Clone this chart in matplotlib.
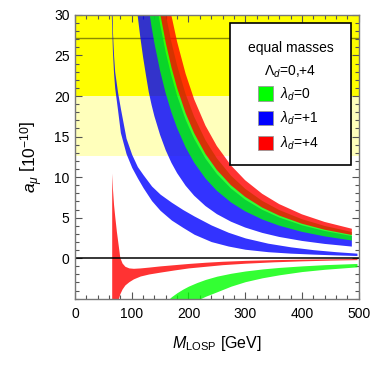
import matplotlib
matplotlib.use("Agg")
import matplotlib.pyplot as plt
from matplotlib.patches import Rectangle
from matplotlib.ticker import MultipleLocator

plt.rcParams['font.family'] = ['Liberation Sans', 'DejaVu Sans']
plt.rcParams['mathtext.fontset'] = 'custom'
plt.rcParams['mathtext.rm'] = 'Liberation Sans'
plt.rcParams['mathtext.it'] = 'Liberation Sans:italic'
plt.rcParams['mathtext.bf'] = 'Liberation Sans:bold'

# ---------------- data ----------------
# experimental bands
band_2sigma = (12.6, 20.0)
band_1sigma = (20.0, 30.0)
central_value = 27.1

# main (wide) bands, mass grid in GeV
m_main = [100, 105, 110, 115, 120, 125, 130, 135, 140, 150, 160, 170, 180, 195,
          210, 230, 250, 275, 300, 330, 360, 400, 440, 488]
blue_lo = [36.6, 33.2, 30.2, 27.3, 24.8, 22.6, 20.5, 18.9, 17.5, 15.2, 13.3, 11.76,
           10.49, 8.94, 7.71, 6.43, 5.44, 4.50, 3.78, 3.12, 2.62, 2.13, 1.76, 1.43]
blue_hi = [65.0, 58.96, 53.72, 49.15, 45.14, 41.6, 38.46, 35.67, 33.16, 28.89, 25.39,
           22.49, 20.06, 17.09, 14.74, 12.29, 10.4, 8.6, 7.22, 5.97, 5.02, 4.06, 3.36, 2.73]
green_lo = [52.0, 47.17, 42.98, 39.32, 36.11, 33.28, 30.77, 28.53, 26.53, 23.11, 20.31,
            17.99, 16.05, 13.68, 11.79, 9.83, 8.32, 6.88, 5.78, 4.78, 4.01, 3.25, 2.69, 2.18]
green_hi = [77.0, 69.84, 63.64, 58.22, 53.47, 49.28, 45.56, 42.25, 39.29, 34.22, 30.08,
            26.64, 23.77, 20.25, 17.46, 14.56, 12.32, 10.18, 8.56, 7.07, 5.94, 4.81, 3.98, 3.23]
red_lo = [68.0, 61.68, 56.2, 51.42, 47.22, 43.52, 40.24, 37.31, 34.69, 30.22, 26.56,
          23.53, 20.99, 17.88, 15.42, 12.85, 10.88, 8.99, 7.56, 6.24, 5.25, 4.25, 3.51, 2.86]
red_hi = [86.5, 78.46, 71.49, 65.41, 60.07, 55.36, 51.18, 47.46, 44.13, 38.44, 33.79,
          29.93, 26.7, 22.75, 19.61, 16.35, 13.84, 11.44, 9.61, 7.94, 6.67, 5.41, 4.47, 3.63]

# thin blue band
m_thin_blue = [64, 66, 68, 70, 75, 80, 90, 100, 110, 120, 135, 150, 170, 190, 210,
               240, 270, 300, 340, 380, 420, 460, 497]
thin_blue_hi = [36, 28, 25, 23, 20.5, 18.5, 14.8, 12.8, 11.3, 10.3, 8.9, 7.9, 6.9, 6.0,
                5.2, 4.1, 3.2, 2.5, 1.85, 1.4, 1.05, 0.8, 0.62]
thin_blue_lo = [30, 25.5, 22.8, 21, 18.3, 15.5, 12.9, 11.2, 9.9, 8.7, 7.1, 5.9, 4.7, 3.8,
                2.95, 2.05, 1.5, 1.1, 0.8, 0.62, 0.5, 0.4, 0.33]

# thin red band (spike near 65 GeV)
m_thin_red = [64.7, 66, 68, 70, 73, 76, 79, 83, 88, 95, 103, 115, 130, 150, 175, 200,
              230, 260, 300, 350, 400, 450, 497]
thin_red_hi = [10.5, 8.6, 6.6, 5.2, 3.3, 1.7, 0.1, -0.6, -1.0, -1.2, -1.25, -1.2, -1.1,
               -0.95, -0.8, -0.65, -0.5, -0.38, -0.27, -0.18, -0.12, -0.08, -0.05]
thin_red_lo = [-30, -20, -12, -8.5, -6.3, -5.1, -4.4, -3.8, -3.3, -2.9, -2.55, -2.2,
               -1.95, -1.72, -1.45, -1.2, -1.0, -0.8, -0.62, -0.45, -0.33, -0.24, -0.18]

# negative green band
m_neg_green = [160, 170, 180, 190, 200, 215, 230, 250, 275, 300, 330, 360, 400, 440, 497]
neg_green_hi = [-5.4, -4.75, -4.25, -3.82, -3.45, -3.0, -2.62, -2.22, -1.86, -1.58,
                -1.33, -1.14, -0.95, -0.8, -0.65]
neg_green_lo = [-8.5, -7.6, -7.0, -6.8, -6.4, -5.2, -4.7, -4.15, -3.45, -2.9, -2.42,
                -2.05, -1.65, -1.37, -1.07]

legend_title = ["equal masses", r"$\Lambda_d$=0,+4"]
legend_labels = [r"$\lambda_d$=0", r"$\lambda_d$=+1", r"$\lambda_d$=+4"]
legend_colors = ["#00ff00", "#0000ff", "#ff0000"]

# ---------------- figure ----------------
fig = plt.figure(figsize=(3.74, 3.74), dpi=100)
ax = fig.add_axes([0.2005, 0.2013, 0.7585, 0.7587])
ax.set_xlim(0, 500)
ax.set_ylim(-5, 30)

ax.axhspan(band_1sigma[0], band_1sigma[1] + 20, color="#ffff00", lw=0, zorder=0)
ax.axhspan(band_2sigma[0], band_2sigma[1], color="#ffffbb", lw=0, zorder=0)
ax.axhline(central_value, color="black", alpha=0.45, lw=1.0, zorder=1)

a = 0.8
ax.fill_between(m_main, blue_lo, blue_hi, color=(0, 0, 1), alpha=a, lw=0, zorder=2)
ax.fill_between(m_thin_blue, thin_blue_lo, thin_blue_hi, color=(0, 0, 1), alpha=a, lw=0, zorder=2)
ax.fill_between(m_main, green_lo, green_hi, color=(0, 1, 0), alpha=a, lw=0, zorder=3)
ax.fill_between(m_neg_green, neg_green_lo, neg_green_hi, color=(0, 1, 0), alpha=a, lw=0, zorder=3)
ax.fill_between(m_main, red_lo, red_hi, color=(1, 0, 0), alpha=a, lw=0, zorder=4)
ax.fill_between(m_thin_red, thin_red_lo, thin_red_hi, color=(1, 0, 0), alpha=a, lw=0, zorder=4)

ax.axhline(0, color="black", lw=1.1, zorder=5)

# axes styling (Mathematica-like frame)
for s in ax.spines.values():
    s.set_color("#777777")
    s.set_linewidth(1.0)
    s.set_zorder(6)
ax.xaxis.set_major_locator(MultipleLocator(100))
ax.xaxis.set_minor_locator(MultipleLocator(20))
ax.yaxis.set_major_locator(MultipleLocator(5))
ax.yaxis.set_minor_locator(MultipleLocator(1))
ax.set_yticks([0, 5, 10, 15, 20, 25, 30])
ax.tick_params(which="both", direction="in", top=True, right=True, color="#555555",
               width=0.8, labelsize=10)
ax.tick_params(which="major", length=5)
ax.tick_params(which="minor", length=3)
ax.tick_params(axis="x", pad=6)
ax.tick_params(axis="y", pad=4)

ax.set_xlabel(r"$M_{\mathrm{LOSP}}$ [GeV]", fontsize=11.5, labelpad=9)
ax.set_ylabel(r"$a_{\mu}\ \left[10^{-10}\right]$", fontsize=12.5, labelpad=6)

# legend box
ax.add_patch(Rectangle((0.547, 0.471), 0.427, 0.500, transform=ax.transAxes,
                       facecolor="white", edgecolor="black", lw=1.2, zorder=7))
ax.text(0.760, 0.884, legend_title[0], transform=ax.transAxes, ha="center",
        va="center", fontsize=10, zorder=8)
ax.text(0.758, 0.799, legend_title[1], transform=ax.transAxes, ha="center",
        va="center", fontsize=10, zorder=8)
ys = [0.722, 0.637, 0.549]
for y, lab, c in zip(ys, legend_labels, legend_colors):
    ax.add_patch(Rectangle((0.671 - 0.026, y - 0.026), 0.052, 0.052,
                           transform=ax.transAxes, facecolor=c, edgecolor="#999999",
                           lw=0.6, zorder=8))
    ax.text(0.724, y, lab, transform=ax.transAxes, ha="left", va="center",
            fontsize=10, zorder=8)

fig.savefig("out.png", dpi=100)
